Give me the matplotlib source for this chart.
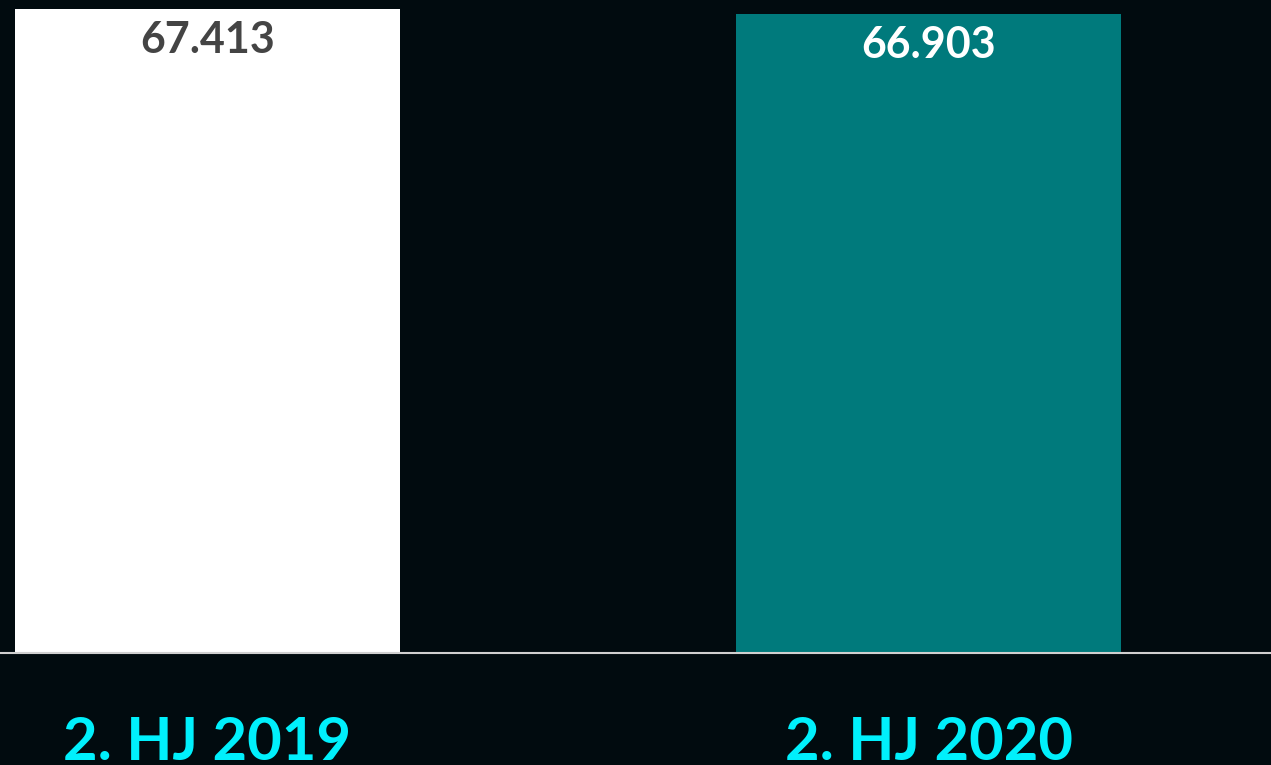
import numpy as np
import matplotlib.pyplot as plt

# daten
kategorien = ['2. HJ 2019', '2. HJ 2020']
werte = [67.413, 66.903]
beschriftung = ['67.413', '66.903']

bg = '#010b0f'
farben = ['#ffffff', '#007a7c']
textfarben = ['#444444', '#ffffff']

plt.rcParams['font.family'] = ['Lato', 'DejaVu Sans']

fig = plt.figure(figsize=(12.71, 7.65), dpi=100, facecolor=bg)
ax = fig.add_axes([0, 0.1458, 1, 0.8542], facecolor=bg)

x = np.arange(len(kategorien))
ax.bar(x, werte, width=0.534, color=farben)

# werte oben in den balken
for xi, v, t, c in zip(x, werte, beschriftung, textfarben):
    ax.annotate(t, xy=(xi, v), xytext=(0, -8), textcoords='offset points',
                ha='center', va='top', fontsize=31, fontweight='bold', color=c)

ax.set_xlim(-0.2878, 1.475)
ax.set_ylim(0, 68.35)
ax.set_xticks(x)
ax.set_xticklabels(kategorien, fontsize=43, fontweight='bold', color='#00f0fc')
ax.tick_params(axis='x', length=0, pad=45)
ax.set_yticks([])
for s in ['top', 'left', 'right']:
    ax.spines[s].set_visible(False)
ax.spines['bottom'].set_color('#d0d0d0')
ax.spines['bottom'].set_linewidth(1.5)

fig.savefig('out.png', dpi=100, facecolor=bg)
